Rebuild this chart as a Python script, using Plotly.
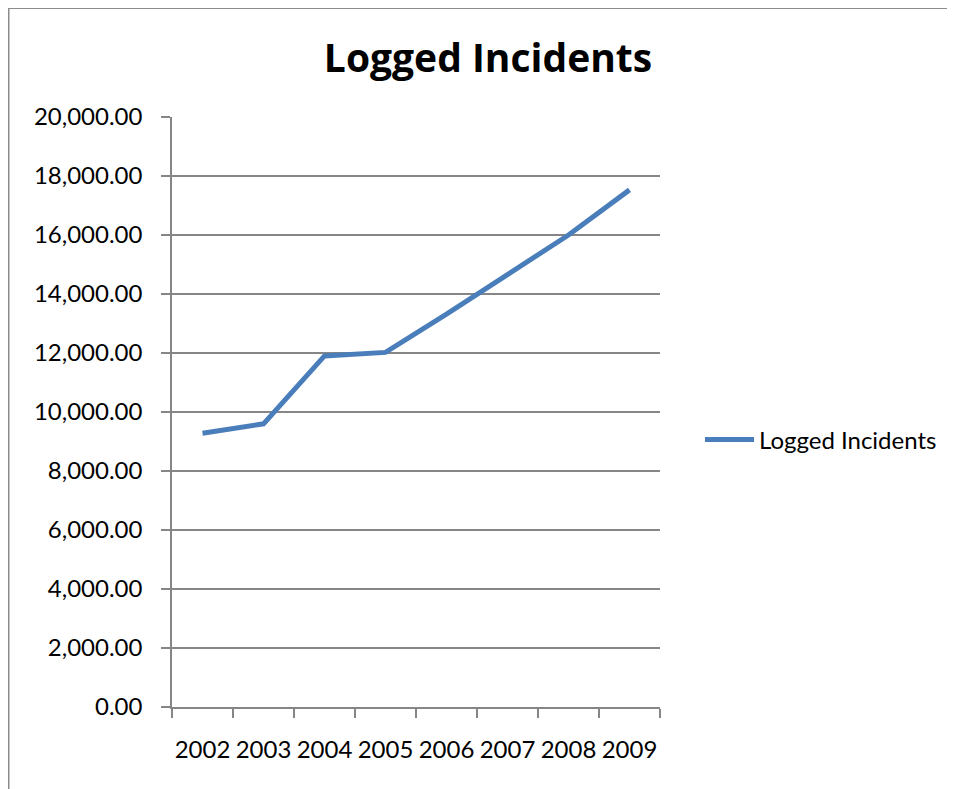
import plotly.graph_objects as go

years = ["2002", "2003", "2004", "2005", "2006", "2007", "2008", "2009"]
incidents = [9280, 9600, 11900, 12020, 13320, 14640, 16000, 17530]
y_ticks = [0, 2000, 4000, 6000, 8000, 10000, 12000, 14000, 16000, 18000, 20000]
y_tick_text = [f"{v:,.2f}" for v in y_ticks]

FONT = "Lato"
GRAY = "#868686"

# page body has an 8px margin; figure is sized/offset to compensate
W, H = 947, 781
PL, PR, PT, PB = 164, 652, 109, 699  # plot area in figure pixels

fig = go.Figure()
fig.add_trace(go.Scatter(
    x=years, y=incidents, mode="lines", name="Logged Incidents",
    line=dict(color="#4A7EBB", width=5),
))

pw, ph = PR - PL, PB - PT

fig.update_layout(
    width=W, height=H,
    margin=dict(l=PL, r=W - PR, t=PT, b=H - PB, pad=0),
    paper_bgcolor="white", plot_bgcolor="white",
    font=dict(family=FONT, color="black", size=24),
    title=dict(text="<b>Logged Incidents</b>", x=480 / W, xanchor="center",
               y=1 - 50 / H, yanchor="middle",
               font=dict(size=39, family="Open Sans")),
    showlegend=True,
    legend=dict(x=(692 - PL) / pw, y=(PB - 432) / ph, xanchor="left", yanchor="middle",
                itemwidth=49,
                font=dict(size=24, family=FONT), bgcolor="rgba(0,0,0,0)"),
    xaxis=dict(type="category", range=[-0.5, 7.5], tickson="boundaries",
               ticks="outside", ticklen=9, tickangle=0, automargin=False,
               tickcolor=GRAY, tickwidth=1.5, showline=True, linecolor=GRAY, linewidth=1.5,
               showgrid=False, ticklabelstandoff=20, tickfont=dict(size=24)),
    yaxis=dict(range=[0, 20000], tickvals=y_ticks, ticktext=y_tick_text,
               ticks="outside", ticklen=9, tickcolor=GRAY, tickwidth=1.5,
               showline=True, linecolor=GRAY, linewidth=1.5, automargin=False,
               showgrid=True, gridcolor=GRAY, gridwidth=1.5, zeroline=False,
               ticklabelstandoff=14, tickfont=dict(size=24)),
    shapes=[dict(type="rect", xref="paper", yref="paper",
                 x0=(0.5 - PL) / pw, x1=(1000 - PL) / pw,
                 y0=(PB - 820) / ph, y1=(PB - 0) / ph,
                 line=dict(color="#8C8C8C", width=2), fillcolor="rgba(0,0,0,0)",
                 layer="below")],
)

fig.write_html("out.html")
